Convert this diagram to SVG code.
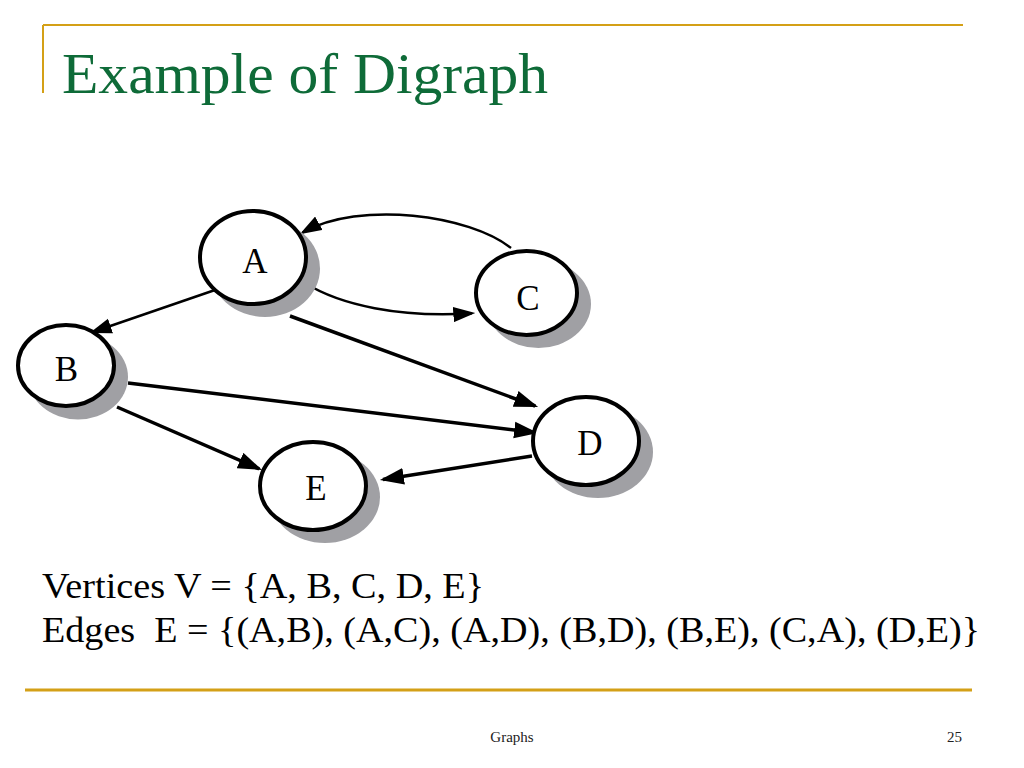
<svg xmlns="http://www.w3.org/2000/svg" width="1024" height="768" viewBox="0 0 1024 768">
<style>
.gold{stroke:#D4A017;fill:none}
.title{font-family:"Liberation Serif","Times New Roman",serif;font-size:56px;fill:#0E6B38}
.body{font-family:"Liberation Serif","Times New Roman",serif;font-size:35px;fill:#000}
.foot{font-family:"Liberation Serif","Times New Roman",serif;font-size:15px;fill:#222}
.shadow{fill:#A0A0A4}
.node{fill:#fff;stroke:#000;stroke-width:4}
.lbl{font-family:"Liberation Serif","Times New Roman",serif;font-size:35px;fill:#000;text-anchor:middle}
.thin{stroke:#000;stroke-width:2.5;fill:none;marker-end:url(#ahs)}
.thick{stroke:#000;stroke-width:3.5;fill:none;marker-end:url(#ah)}
</style>
<defs>
<marker id="ah" markerUnits="userSpaceOnUse" markerWidth="24" markerHeight="18" viewBox="0 0 23 16" refX="20" refY="8" orient="auto">
<path d="M0,0 L23,8 L0,16 z" fill="#000"/>
</marker>
<marker id="ahs" markerUnits="userSpaceOnUse" markerWidth="22" markerHeight="16" viewBox="0 0 20 14" refX="17" refY="7" orient="auto">
<path d="M0,0 L20,7 L0,14 z" fill="#000"/>
</marker>
</defs>
<rect width="1024" height="768" fill="#fff"/>
<g id="frame">
<line class="gold" x1="43" y1="25" x2="963" y2="25" stroke-width="2"/>
<line class="gold" x1="43" y1="25" x2="43" y2="93" stroke-width="2"/>
<line class="gold" x1="25" y1="690" x2="972" y2="690" stroke-width="3"/>
</g>
<text class="title" x="62" y="93" textLength="486" lengthAdjust="spacingAndGlyphs">Example of Digraph</text>
<g id="connectors">
<path class="thin" d="M215,290 L92.8,332"/>
<path class="thin" d="M305,283 C340,305 400,318 472,313.3"/>
<path class="thin" d="M511,248 C470,215 360,200 302.6,232.5"/>
<path class="thick" d="M290,316 L535.2,406"/>
<path class="thick" d="M128,383 L535,432.6"/>
<path class="thick" d="M117,407 L259.2,468.8"/>
<path class="thick" d="M532,456 L383,479.5"/>
</g>
<g id="node-A">
<ellipse class="shadow" cx="265" cy="268.5" rx="55" ry="48.5"/>
<ellipse class="node" cx="253" cy="257.5" rx="53" ry="46.5"/>
<text class="lbl" x="255" y="273">A</text>
</g>
<g id="node-C">
<ellipse class="shadow" cx="538.5" cy="304" rx="52.5" ry="44"/>
<ellipse class="node" cx="526.5" cy="293" rx="50.5" ry="42"/>
<text class="lbl" x="528" y="310">C</text>
</g>
<g id="node-B">
<ellipse class="shadow" cx="78" cy="377" rx="50" ry="42.5"/>
<ellipse class="node" cx="66" cy="365.5" rx="48" ry="40.5"/>
<text class="lbl" x="66.5" y="381">B</text>
</g>
<g id="node-D">
<ellipse class="shadow" cx="598" cy="452" rx="55" ry="46"/>
<ellipse class="node" cx="586" cy="441" rx="53" ry="44"/>
<text class="lbl" x="590" y="455">D</text>
</g>
<g id="node-E">
<ellipse class="shadow" cx="325" cy="497" rx="55" ry="46"/>
<ellipse class="node" cx="313" cy="486" rx="53" ry="44"/>
<text class="lbl" x="316" y="500">E</text>
</g>
<text class="body" x="42" y="598" textLength="442" lengthAdjust="spacingAndGlyphs">Vertices V = {A, B, C, D, E}</text>
<text class="body" x="42" y="642" textLength="938" lengthAdjust="spacingAndGlyphs" xml:space="preserve">Edges  E = {(A,B), (A,C), (A,D), (B,D), (B,E), (C,A), (D,E)}</text>
<text class="foot" x="512" y="742" text-anchor="middle">Graphs</text>
<text class="foot" x="962" y="742" text-anchor="end">25</text>
</svg>
